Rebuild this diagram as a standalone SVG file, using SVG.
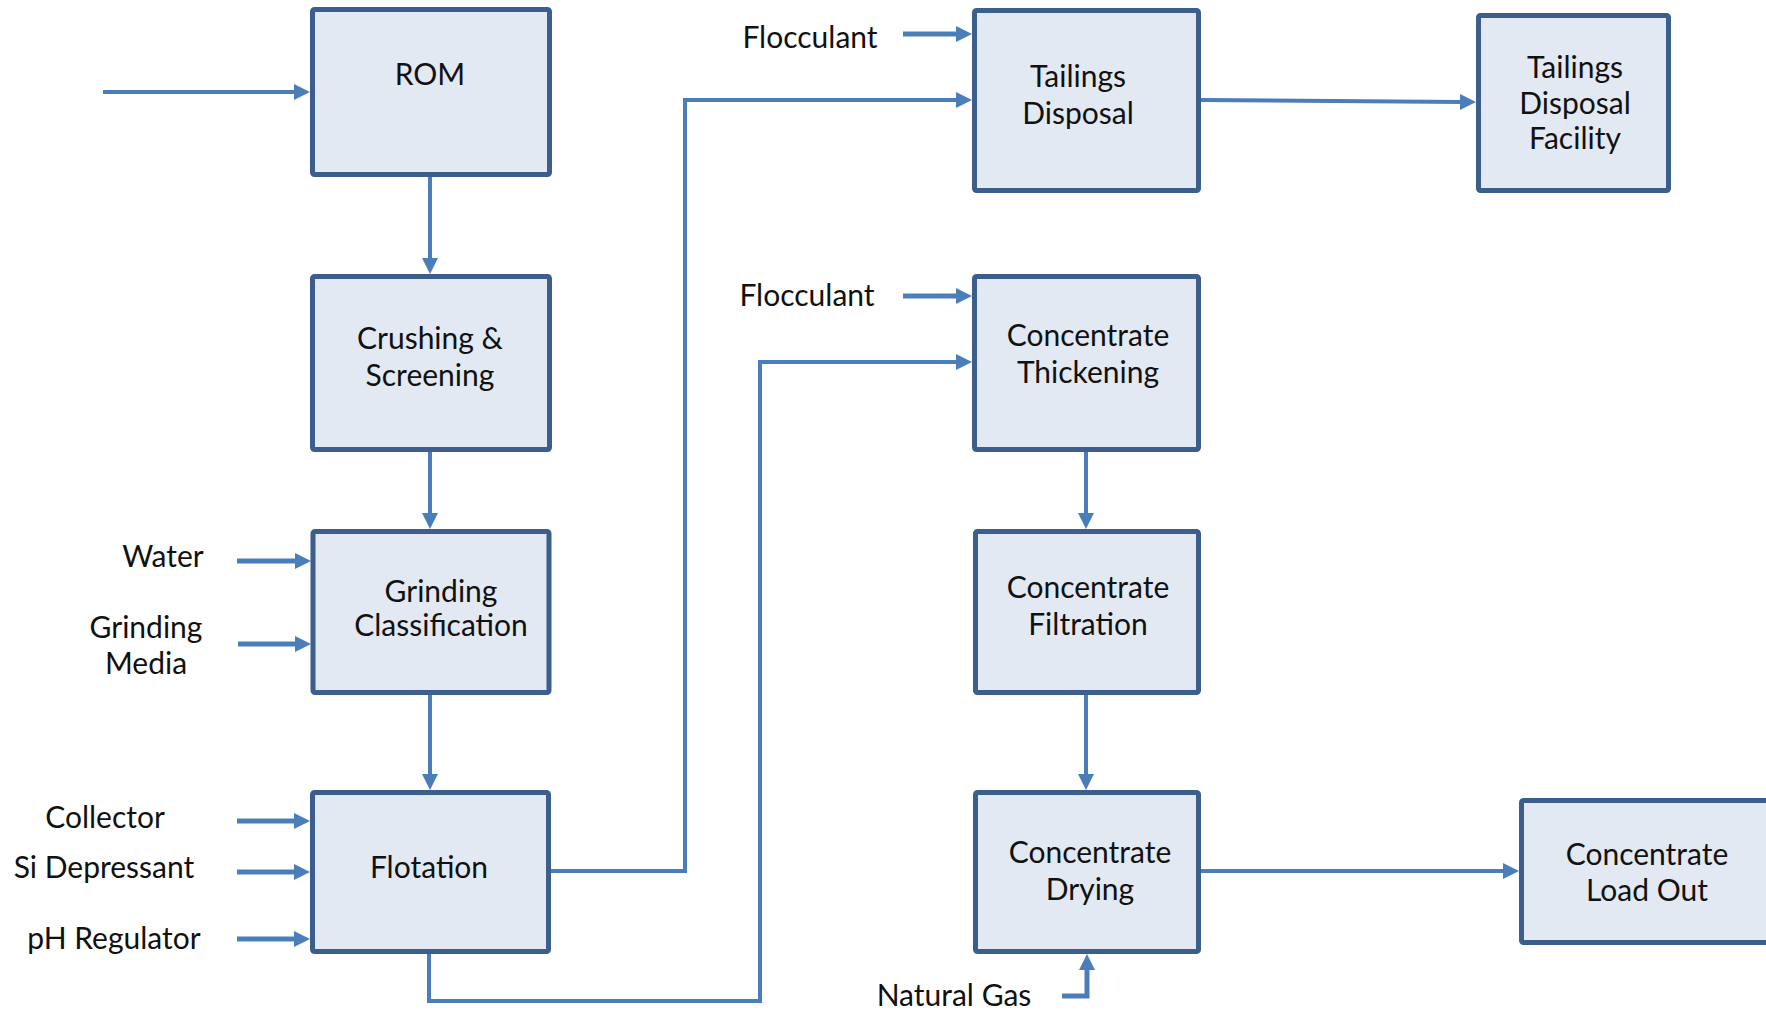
<svg xmlns="http://www.w3.org/2000/svg" width="1766" height="1010" viewBox="0 0 1766 1010">
<style>
.box{fill:#E2E9F3;stroke:#3B5E8C;stroke-width:5}
.t{font-family:Lato,"Open Sans","Liberation Sans",sans-serif;font-size:30px;fill:#111;text-anchor:middle}
.c{fill:none;stroke:#4A7EBB;stroke-width:4;stroke-linejoin:miter}
.ci{fill:none;stroke:#4A7EBB;stroke-width:5}
</style>
<defs>
<marker id="ah" markerUnits="userSpaceOnUse" markerWidth="16" markerHeight="16" viewBox="0 0 16 16" refX="1" refY="8" orient="auto">
<path d="M0,0 L16,8 L0,16 z" fill="#4A7EBB"/>
</marker>
</defs>
<rect width="1766" height="1010" fill="#fff"/>
<g id="connectors">
<line class="c" x1="103" y1="92" x2="295" y2="92" marker-end="url(#ah)"/>
<line class="c" x1="430" y1="177" x2="430" y2="259" marker-end="url(#ah)"/>
<line class="c" x1="430" y1="452" x2="430" y2="514" marker-end="url(#ah)"/>
<line class="c" x1="430" y1="695" x2="430" y2="775" marker-end="url(#ah)"/>
<line class="ci" x1="237" y1="561" x2="296" y2="561" marker-end="url(#ah)"/>
<line class="ci" x1="238" y1="644" x2="296" y2="644" marker-end="url(#ah)"/>
<line class="ci" x1="237" y1="821" x2="295" y2="821" marker-end="url(#ah)"/>
<line class="ci" x1="237" y1="872" x2="295" y2="872" marker-end="url(#ah)"/>
<line class="ci" x1="237" y1="939" x2="295" y2="939" marker-end="url(#ah)"/>
<polyline class="c" points="551,871 685,871 685,100 957,100" marker-end="url(#ah)"/>
<polyline class="c" points="429,954 429,1001 760,1001 760,362 957,362" marker-end="url(#ah)"/>
<line class="ci" x1="903" y1="34" x2="957" y2="34" marker-end="url(#ah)"/>
<line class="ci" x1="903" y1="296" x2="957" y2="296" marker-end="url(#ah)"/>
<line class="c" x1="1201" y1="100" x2="1461" y2="102" marker-end="url(#ah)"/>
<line class="c" x1="1086" y1="452" x2="1086" y2="514" marker-end="url(#ah)"/>
<line class="c" x1="1086" y1="695" x2="1086" y2="775" marker-end="url(#ah)"/>
<line class="c" x1="1201" y1="871" x2="1504" y2="871" marker-end="url(#ah)"/>
<polyline class="ci" points="1062,996 1087,996 1087,969" marker-end="url(#ah)"/>
</g>
<g id="rom"><rect class="box" x="312.5" y="9.5" width="237" height="165" rx="2"/><text class="t" x="430" y="85">ROM</text></g>
<g id="crushing"><rect class="box" x="312.5" y="276.5" width="237" height="173" rx="2"/><text class="t" x="430" y="349">Crushing &amp;</text><text class="t" x="430" y="386">Screening</text></g>
<g id="grinding"><rect class="box" x="313" y="531.5" width="236" height="161" rx="2"/><text class="t" x="441" y="602">Grinding</text><text class="t" x="441" y="636">Classification</text></g>
<g id="flotation"><rect class="box" x="312.5" y="792.5" width="236" height="159" rx="2"/><text class="t" x="429" y="878">Flotation</text></g>
<g id="tailings-disposal"><rect class="box" x="974.5" y="10.5" width="224" height="180" rx="2"/><text class="t" x="1078" y="87">Tailings</text><text class="t" x="1078" y="124">Disposal</text></g>
<g id="tailings-facility"><rect class="box" x="1478.5" y="15.5" width="190" height="175" rx="2"/><text class="t" x="1575" y="78">Tailings</text><text class="t" x="1575" y="114">Disposal</text><text class="t" x="1575" y="149">Facility</text></g>
<g id="thickening"><rect class="box" x="974.5" y="276.5" width="224" height="173" rx="2"/><text class="t" x="1088" y="346">Concentrate</text><text class="t" x="1088" y="383">Thickening</text></g>
<g id="filtration"><rect class="box" x="975.5" y="531.5" width="223" height="161" rx="2"/><text class="t" x="1088" y="598">Concentrate</text><text class="t" x="1088" y="635">Filtration</text></g>
<g id="drying"><rect class="box" x="975.5" y="792.5" width="223" height="159" rx="2"/><text class="t" x="1090" y="863">Concentrate</text><text class="t" x="1090" y="900">Drying</text></g>
<g id="load-out"><rect class="box" x="1521.5" y="800.5" width="260" height="142" rx="2"/><text class="t" x="1647" y="865">Concentrate</text><text class="t" x="1647" y="901">Load Out</text></g>
<g id="labels">
<text class="t" x="810" y="48">Flocculant</text>
<text class="t" x="807" y="306">Flocculant</text>
<text class="t" x="163" y="567">Water</text>
<text class="t" x="146" y="638">Grinding</text>
<text class="t" x="146" y="674">Media</text>
<text class="t" x="105" y="828">Collector</text>
<text class="t" x="104" y="878">Si Depressant</text>
<text class="t" x="114" y="949">pH Regulator</text>
<text class="t" x="954" y="1006">Natural Gas</text>
</g>
</svg>
